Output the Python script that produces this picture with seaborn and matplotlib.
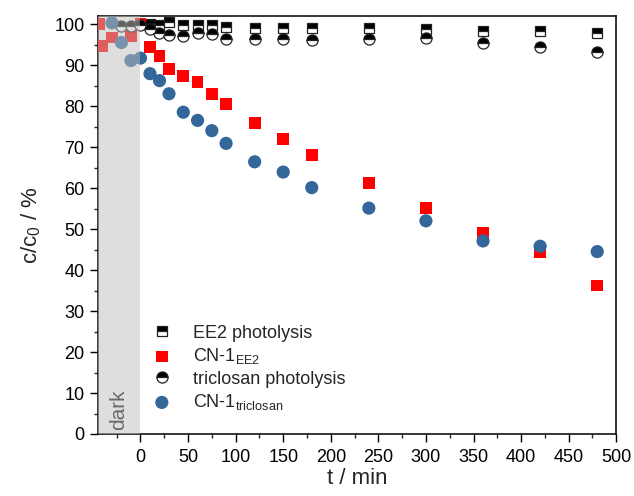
import numpy as np
import pandas as pd
import matplotlib
matplotlib.use("Agg")
import matplotlib.pyplot as plt
import seaborn as sns

# ---- data ----
ee2_photo_t = [10, 20, 30, 45, 60, 75, 90, 120, 150, 180, 240, 300, 360, 420, 480]
ee2_photo_c = [100.1, 99.8, 100.6, 99.8, 99.7, 99.7, 99.4, 99.0, 99.0, 99.0, 99.0, 98.8, 98.4, 98.2, 97.8]

cn1_ee2_t = [-43, -40, -30, -10, 0, 10, 20, 30, 45, 60, 75, 90, 120, 150, 180, 240, 300, 360, 420, 480]
cn1_ee2_c = [100.0, 94.6, 96.7, 97.1, 100.0, 94.4, 92.3, 89.1, 87.3, 85.9, 83.0, 80.5, 75.9, 72.0, 68.1, 61.3, 55.1, 49.0, 44.3, 36.2]

tcs_photo_t = [-20, -10, 0, 10, 20, 30, 45, 60, 75, 90, 120, 150, 180, 240, 300, 360, 420, 480]
tcs_photo_c = [99.5, 99.5, 99.7, 98.8, 97.8, 97.4, 97.0, 97.9, 97.6, 96.4, 96.4, 96.3, 96.0, 96.4, 96.6, 95.5, 94.5, 93.3]

cn1_tcs_t = [-30, -20, -10, 0, 10, 20, 30, 45, 60, 75, 90, 120, 150, 180, 240, 300, 360, 420, 480]
cn1_tcs_c = [100.3, 95.5, 91.1, 91.7, 87.9, 86.2, 83.0, 78.5, 76.5, 74.0, 70.9, 66.4, 63.9, 60.1, 55.1, 52.0, 47.1, 45.8, 44.5]

labels = ["EE2 photolysis", r"CN-1$_{\mathrm{EE2}}$", "triclosan photolysis", r"CN-1$_{\mathrm{triclosan}}$"]
x_ticks = [0, 50, 100, 150, 200, 250, 300, 350, 400, 450, 500]
y_ticks = [0, 10, 20, 30, 40, 50, 60, 70, 80, 90, 100]

df_ee2p = pd.DataFrame({"t": ee2_photo_t, "c": ee2_photo_c})
df_cn1e = pd.DataFrame({"t": cn1_ee2_t, "c": cn1_ee2_c})
df_tcsp = pd.DataFrame({"t": tcs_photo_t, "c": tcs_photo_c})
df_cn1t = pd.DataFrame({"t": cn1_tcs_t, "c": cn1_tcs_c})

sns.set_style("ticks")
plt.rcParams["font.family"] = ["Liberation Sans", "DejaVu Sans"]
plt.rcParams["mathtext.fontset"] = "custom"
plt.rcParams["mathtext.rm"] = "Liberation Sans"
plt.rcParams["mathtext.it"] = "Liberation Sans:italic"

fig = plt.figure(figsize=(6.34, 4.96), dpi=100)
ax = fig.add_axes([0.154, 0.125, 0.818, 0.843])

red = "#ff0000"
blue = "#336699"

sns.lineplot(data=df_ee2p, x="t", y="c", ax=ax, estimator=None, sort=False,
             linestyle="none", marker="s", markersize=6.5, fillstyle="top",
             markerfacecolor="black", markerfacecoloralt="white",
             markeredgecolor="#222222", markeredgewidth=0.9, color="black",
             label=labels[0], zorder=3)
sns.scatterplot(data=df_cn1e, x="t", y="c", ax=ax, marker="s", s=72,
                color=red, edgecolor="none", label=labels[1], zorder=3)
sns.lineplot(data=df_tcsp, x="t", y="c", ax=ax, estimator=None, sort=False,
             linestyle="none", marker="o", markersize=8, fillstyle="top",
             markerfacecolor="black", markerfacecoloralt="white",
             markeredgecolor="#222222", markeredgewidth=0.9, color="black",
             label=labels[2], zorder=3)
sns.scatterplot(data=df_cn1t, x="t", y="c", ax=ax, marker="o", s=90,
                color=blue, edgecolor="none", label=labels[3], zorder=3)

# dark phase overlay
ax.axvspan(-45, 0, color="#bfbfbf", alpha=0.5, lw=0, zorder=5)
ax.text(-22.5, 6, "dark", rotation=90, ha="center", va="center",
        fontsize=15, color="#6a6a6a", zorder=6)

ax.set_xlim(-45, 500)
ax.set_ylim(0, 102)
ax.set_xticks(x_ticks)
ax.set_yticks(y_ticks)
ax.set_xticks(np.arange(-25, 500, 50), minor=True)
ax.set_yticks(np.arange(5, 101, 10), minor=True)
ax.tick_params(axis="both", which="major", direction="out", length=6, width=1,
               labelsize=13, colors="black", top=False, right=False)
ax.tick_params(axis="x", which="major", pad=5)
ax.tick_params(axis="both", which="minor", direction="out", length=3, width=1,
               top=False, right=False)
for sp in ax.spines.values():
    sp.set_visible(True)
    sp.set_linewidth(1.1)
    sp.set_color("black")

ax.set_xlabel("t / min", fontsize=16, labelpad=1)
ax.set_ylabel(r"c/c$_0$ / %", fontsize=16, labelpad=8)

leg = ax.legend(loc="lower left", bbox_to_anchor=(0.082, 0.022), frameon=False,
                fontsize=13, handlelength=1.0, handletextpad=1.2,
                labelspacing=0.25, borderaxespad=0.3)

fig.savefig("out.png", dpi=100)
